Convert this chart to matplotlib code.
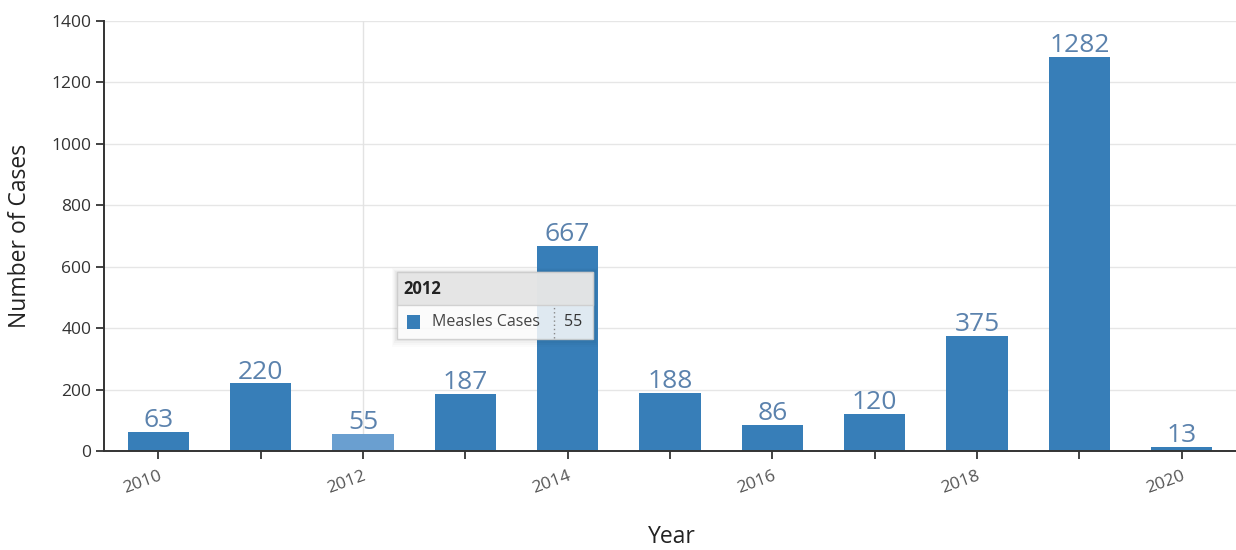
import matplotlib
matplotlib.use("Agg")
import matplotlib.pyplot as plt
from matplotlib.patches import Rectangle
from matplotlib.transforms import ScaledTranslation

years = [2010, 2011, 2012, 2013, 2014, 2015, 2016, 2017, 2018, 2019, 2020]
cases = [63, 220, 55, 187, 667, 188, 86, 120, 375, 1282, 13]
y_ticks = [0, 200, 400, 600, 800, 1000, 1200, 1400]
hover_year = 2012
series_name = "Measles Cases"

plt.rcParams['font.family'] = ['Open Sans', 'DejaVu Sans']

fig = plt.figure(figsize=(12.36, 5.5), dpi=100)
ax = fig.add_axes([104/1236, 1-451/550, 1-104/1236, 430/550])

bar_color = "#377eb8"
hover_color = "#6a9fd0"
label_color = "#5b82ad"

x = list(range(len(years)))
hi = years.index(hover_year)
colors = [hover_color if i == hi else bar_color for i in x]
ax.bar(x, cases, width=0.6, color=colors, zorder=2)
for xi, v in zip(x, cases):
    ax.annotate(str(v), (xi, v), xytext=(0, 3.5), textcoords='offset points',
                ha='center', va='baseline', fontsize=19, color=label_color, zorder=3)

ax.set_xlim(-0.53, 10.53)
ax.set_ylim(0, 1400)
ax.set_yticks(y_ticks)
ax.set_yticklabels([str(t) for t in y_ticks], fontsize=12.5, color="#333333")
ax.set_xticks(x)
ax.set_xticklabels([str(y) if y % 2 == 0 else "" for y in years], fontsize=12.5, color="#555555",
                   rotation=20, ha='right', va='top', rotation_mode='anchor')
offset = ScaledTranslation(4/100, 0, fig.dpi_scale_trans)
for lab in ax.get_xticklabels():
    lab.set_transform(lab.get_transform() + offset)
ax.tick_params(axis='x', length=6, width=1.2, color="#222222", pad=6)
ax.tick_params(axis='y', length=6, width=1.2, color="#222222", pad=3)
ax.yaxis.grid(True, color="#e6e6e6", linewidth=1, zorder=0)
ax.axvline(hi, color="#e3e3e3", linewidth=1, zorder=1)
ax.set_axisbelow(True)
for s in ['top', 'right']:
    ax.spines[s].set_visible(False)
for s in ['left', 'bottom']:
    ax.spines[s].set_color("#333333")
    ax.spines[s].set_linewidth(1.4)

ax.set_ylabel("Number of Cases", fontsize=16.5, color="#222222")
ax.yaxis.set_label_coords((32 - 104) / 1132, 0.5)
ax.set_xlabel("Year", fontsize=16.5, color="#222222")
ax.xaxis.set_label_coords(0.502, -0.172)

# tooltip (in data coords around hovered bar)
tx0, tx1 = hi + 0.33, hi + 2.25
ty0, tmid, ty1 = 365, 475, 583
for k, a in [(4, 0.015), (3, 0.02), (2, 0.025), (1, 0.03)]:
    dx = k * 0.012
    dy = k * 5
    ax.add_patch(Rectangle((tx0 - dx, ty0 - dy * 1.4), tx1 - tx0 + 2 * dx, ty1 - ty0 + dy * 2,
                           facecolor="#000000", edgecolor='none', alpha=a, zorder=4))
ax.add_patch(Rectangle((tx0, ty0), tx1 - tx0, ty1 - ty0, facecolor="white", edgecolor="#cccccc",
                       linewidth=1, alpha=0.85, zorder=5))
ax.add_patch(Rectangle((tx0, tmid), tx1 - tx0, ty1 - tmid, facecolor="#e2e2e2", edgecolor="#cccccc",
                       linewidth=1, alpha=0.85, zorder=6))
ax.text(tx0 + 0.07, (tmid + ty1) / 2, str(hover_year), fontsize=12, fontweight='bold', color="#222222",
        va='center', ha='left', zorder=7)
ymid = (ty0 + tmid) / 2
ax.add_patch(Rectangle((tx0 + 0.1, ymid - 22), 0.13, 44, facecolor=bar_color, edgecolor='none', zorder=7))
ax.text(tx0 + 0.34, ymid, series_name, fontsize=11.5, color="#444444", va='center', ha='left', zorder=7)
sep = tx0 + 1.535
ax.plot([sep, sep], [ty0 + 3, tmid - 3], linestyle=(0, (1, 2)), color="#888888", linewidth=1, zorder=7)
ax.text(sep + 0.1, ymid, str(cases[hi]), fontsize=11.5, color="#333333", va='center', ha='left', zorder=7)

fig.savefig("out.png", dpi=100)
